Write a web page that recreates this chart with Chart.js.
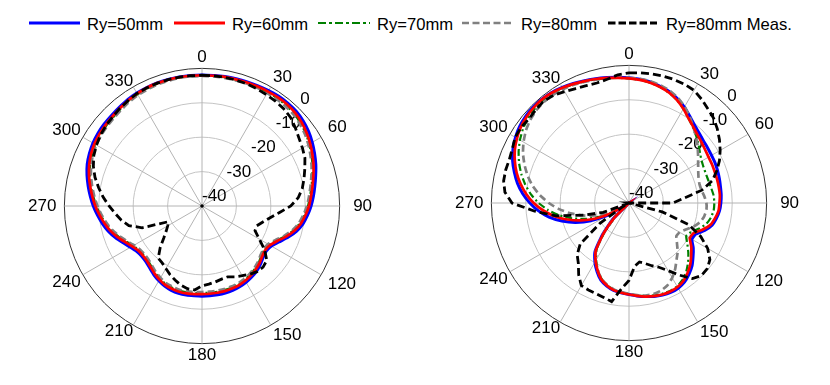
<!DOCTYPE html>
<html>
<head>
<meta charset="utf-8">
<title>Radiation patterns</title>
<script src="https://cdn.jsdelivr.net/npm/chart.js@4.4.1/dist/chart.umd.min.js"></script>
<style>
    html, body { margin: 0; padding: 0; background: #fff; }
    body { width: 830px; height: 385px; position: relative; overflow: hidden;
           font-family: "Liberation Sans", Arial, Helvetica, sans-serif; }
    canvas { position: absolute; }
    #polarL { left: 27px; top: 33px; }
    #polarR { left: 454px; top: 30px; }
    .lg-line { position: absolute; top: 20px; width: 52px; height: 6px; }
    .lg-text { position: absolute; top: 15px; font-size: 16.6px; line-height: 19px; color: #000; white-space: nowrap; }
</style>
</head>
<body>
<svg class="lg-line" style="left:29px"><line x1="0" y1="3" x2="51" y2="3" stroke="#0000ff" stroke-width="2.8"/></svg>
<span class="lg-text" style="left:87px">Ry=50mm</span>
<svg class="lg-line" style="left:174px"><line x1="0" y1="3" x2="51" y2="3" stroke="#ff0000" stroke-width="2.8"/></svg>
<span class="lg-text" style="left:232px">Ry=60mm</span>
<svg class="lg-line" style="left:318px"><line x1="0" y1="3" x2="52" y2="3" stroke="#008000" stroke-width="2.2" stroke-dasharray="8 3 3 3"/></svg>
<span class="lg-text" style="left:377px">Ry=70mm</span>
<svg class="lg-line" style="left:462px"><line x1="0" y1="3" x2="50" y2="3" stroke="#808080" stroke-width="2.6" stroke-dasharray="7 3.5"/></svg>
<span class="lg-text" style="left:521px">Ry=80mm</span>
<svg class="lg-line" style="left:608px"><line x1="0" y1="3" x2="49" y2="3" stroke="#000000" stroke-width="2.8" stroke-dasharray="7.5 3"/></svg>
<span class="lg-text" style="left:666px">Ry=80mm Meas.</span>

<canvas id="polarL" width="348" height="348"></canvas>
<canvas id="polarR" width="348" height="348"></canvas>

<script>
(function () {
    'use strict';

    // angle of every sample, degrees clockwise from top
    var angleLabels = [
        0, 5, 10, 15, 20, 25, 30, 35, 40, 45, 50, 55,
        60, 65, 70, 75, 80, 85, 90, 95, 100, 105, 110, 115,
        120, 125, 130, 135, 140, 145, 150, 155, 160, 165, 170, 175,
        180, 185, 190, 195, 200, 205, 210, 215, 220, 225, 230, 235,
        240, 245, 250, 255, 260, 265, 270, 275, 280, 285, 290, 295,
        300, 305, 310, 315, 320, 325, 330, 335, 340, 345, 350, 355
    ];
    var angleTicks = [0, 30, 60, 90, 120, 150, 180, 210, 240, 270, 300, 330];
    var rTicks = [-40, -30, -20, -10, 0];
    var seriesNames = ['Ry=50mm', 'Ry=60mm', 'Ry=70mm', 'Ry=80mm', 'Ry=80mm Meas.'];

    // left pattern (dB)
    var leftRy50 = [
        -1.9, -1.9, -1.8, -1.7, -1.6, -1.5, -1.3, -1.1, -1.1, -1.2, -1.6, -2.2,
        -3.0, -3.9, -4.8, -5.8, -6.7, -7.5, -8.3, -9.2, -10.2, -11.6, -13.4, -15.3,
        -16.7, -17.2, -16.8, -16.0, -15.3, -14.8, -14.4, -14.1, -13.9, -13.8, -13.8, -13.8,
        -13.8, -13.8, -13.7, -13.7, -13.9, -14.3, -14.9, -15.6, -16.4, -17.0, -17.2, -16.9,
        -16.0, -14.7, -13.2, -11.8, -10.6, -9.5, -8.4, -7.4, -6.4, -5.4, -4.5, -3.9,
        -3.4, -3.1, -2.9, -2.8, -2.6, -2.3, -2.1, -2.0, -1.9, -1.9, -1.9, -1.9
    ];
    var leftRy60 = [
        -2.0, -2.0, -1.9, -1.9, -1.8, -1.7, -1.6, -1.5, -1.5, -1.7, -2.2, -2.9,
        -3.7, -4.6, -5.5, -6.5, -7.4, -8.2, -8.9, -9.8, -10.8, -12.2, -14.0, -15.9,
        -17.2, -17.6, -17.2, -16.4, -15.8, -15.3, -14.9, -14.6, -14.5, -14.4, -14.4, -14.4,
        -14.4, -14.3, -14.2, -14.2, -14.4, -14.7, -15.3, -16.0, -16.8, -17.4, -17.6, -17.4,
        -16.6, -15.3, -13.8, -12.4, -11.2, -10.1, -9.0, -8.0, -7.0, -6.0, -5.1, -4.4,
        -3.9, -3.6, -3.4, -3.2, -2.9, -2.6, -2.3, -2.1, -2.0, -2.0, -2.0, -2.0
    ];
    var leftRy70 = [
        -2.1, -2.1, -2.0, -2.0, -1.9, -1.9, -1.8, -1.8, -1.9, -2.1, -2.6, -3.2,
        -4.0, -4.9, -5.8, -6.8, -7.7, -8.5, -9.2, -10.1, -11.1, -12.5, -14.3, -16.2,
        -17.5, -17.9, -17.5, -16.7, -16.1, -15.6, -15.2, -14.9, -14.8, -14.7, -14.7, -14.7,
        -14.7, -14.6, -14.5, -14.5, -14.7, -15.0, -15.6, -16.3, -17.1, -17.7, -17.9, -17.7,
        -16.9, -15.6, -14.1, -12.7, -11.5, -10.4, -9.3, -8.3, -7.3, -6.3, -5.4, -4.7,
        -4.2, -3.9, -3.7, -3.5, -3.2, -2.8, -2.5, -2.3, -2.2, -2.1, -2.1, -2.1
    ];
    var leftRy80 = [
        -2.2, -2.2, -2.2, -2.2, -2.1, -2.1, -2.1, -2.1, -2.2, -2.4, -2.9, -3.5,
        -4.3, -5.2, -6.1, -7.1, -8.0, -8.8, -9.5, -10.4, -11.4, -12.8, -14.6, -16.5,
        -17.8, -18.2, -17.8, -17.0, -16.4, -15.9, -15.5, -15.2, -15.1, -15.0, -15.0, -15.0,
        -15.0, -14.9, -14.8, -14.8, -15.0, -15.3, -15.9, -16.6, -17.4, -18.0, -18.2, -18.0,
        -17.2, -15.9, -14.4, -13.0, -11.8, -10.7, -9.6, -8.6, -7.6, -6.6, -5.7, -5.0,
        -4.5, -4.2, -4.0, -3.8, -3.5, -3.1, -2.8, -2.6, -2.4, -2.3, -2.2, -2.2
    ];
    var leftMeas = [
        -2.0, -2.0, -2.0, -2.1, -2.2, -2.4, -2.6, -2.8, -3.1, -3.6, -4.6, -5.6,
        -6.3, -7.0, -8.2, -9.3, -10.4, -11.9, -14.2, -17.5, -20.0, -21.8, -23.1, -23.0,
        -20.8, -17.8, -15.4, -14.9, -15.1, -15.8, -16.6, -17.3, -18.1, -18.0, -17.6, -17.2,
        -16.8, -15.5, -15.6, -16.2, -17.1, -18.0, -19.0, -19.8, -20.2, -22.8, -25.5, -27.3,
        -28.5, -29.2, -21.5, -18.0, -16.2, -14.7, -13.0, -11.2, -9.5, -7.8, -6.4, -5.3,
        -4.6, -4.0, -3.6, -3.3, -2.9, -2.6, -2.2, -2.1, -2.0, -2.0, -2.0, -2.0
    ];

    // right pattern (dB)
    var rightRy50 = [
        -3.6, -3.9, -4.3, -4.9, -5.6, -6.6, -7.8, -9.2, -10.4, -11.2, -11.8, -12.1,
        -12.3, -12.4, -12.6, -12.8, -13.0, -13.1, -13.3, -13.6, -14.2, -15.0, -16.6, -18.6,
        -18.9, -17.2, -15.7, -14.1, -12.9, -11.9, -11.4, -11.3, -11.5, -11.9, -12.4, -12.9,
        -13.4, -13.8, -14.2, -15.0, -16.1, -18.0, -20.2, -22.8, -28.0, -33.5, -40, -40,
        -33, -27.8, -23.5, -19.8, -16.4, -13.6, -11.2, -9.0, -7.1, -5.5, -4.0, -2.8,
        -1.9, -1.2, -0.8, -0.6, -0.6, -0.8, -1.2, -1.7, -2.2, -2.6, -3.0, -3.3
    ];
    var rightRy60 = [
        -3.8, -4.1, -4.5, -5.1, -5.9, -7.0, -8.4, -9.9, -11.0, -11.9, -12.5, -13.0,
        -13.3, -13.4, -13.5, -13.5, -13.5, -13.5, -13.7, -13.9, -14.6, -15.5, -17.3, -19.3,
        -19.6, -17.9, -16.4, -14.8, -13.5, -12.4, -11.8, -11.6, -11.7, -12.0, -12.4, -12.9,
        -13.4, -13.8, -14.3, -15.2, -16.4, -18.4, -20.6, -23.2, -28.5, -34, -40, -40,
        -34, -29.3, -25.2, -21.5, -18.0, -15.0, -12.3, -10.0, -8.0, -6.2, -4.7, -3.4,
        -2.4, -1.6, -1.1, -0.8, -0.7, -0.9, -1.3, -1.8, -2.3, -2.7, -3.1, -3.5
    ];
    var rightRy70 = [
        -3.8, -4.1, -4.5, -5.1, -5.9, -7.0, -8.4, -9.9, -11.2, -12.4, -13.6, -14.8,
        -15.6, -16.0, -16.1, -16.0, -15.7, -15.3, -15.2, -15.3, -15.8, -16.7, -18.3, -20.1,
        -20.8, -19.3, -17.5, -15.7, -14.1, -12.8, -12.0, -11.8, -11.9, -12.2, -12.6, -13.0,
        -13.5, -13.9, -14.4, -15.3, -16.6, -18.6, -20.9, -23.6, -29, -34.5, -40, -40,
        -35, -30.5, -26.5, -22.8, -19.4, -16.4, -13.7, -11.4, -9.4, -7.6, -6.0, -4.6,
        -3.4, -2.4, -1.7, -1.3, -1.1, -1.2, -1.5, -1.9, -2.4, -2.8, -3.2, -3.5
    ];
    var rightRy80 = [
        -3.6, -3.8, -4.1, -4.6, -5.3, -6.3, -7.7, -9.3, -11.0, -12.5, -14.0, -15.5,
        -16.8, -17.8, -18.5, -18.8, -18.6, -18.0, -17.5, -17.4, -17.8, -18.6, -20.0, -21.8,
        -23.0, -23.2, -21.8, -20.0, -18.5, -16.6, -14.9, -13.6, -12.9, -12.6, -12.7, -13.1,
        -13.6, -14.0, -14.5, -15.4, -16.6, -18.4, -20.6, -23.3, -28.5, -34, -40, -40,
        -37, -33, -29.5, -26.0, -22.7, -19.6, -16.7, -14.0, -11.6, -9.5, -7.7, -6.0,
        -4.6, -3.4, -2.5, -1.9, -1.6, -1.6, -1.8, -2.1, -2.5, -2.9, -3.2, -3.4
    ];
    var rightMeas = [
        -2.2, -2.0, -1.9, -1.8, -1.8, -1.9, -2.2, -3.2, -4.3, -5.2, -6.5, -7.9,
        -9.4, -11.0, -12.9, -14.9, -18.5, -24.0, -27.2, -40, -40, -30, -21.5, -17,
        -13.6, -11.3, -10.3, -10.2, -11.3, -14.4, -17.3, -19.4, -20.6, -21.8, -22.6, -21.5,
        -17.5, -15, -10.9, -11.6, -12.0, -12.1, -12.3, -14.5, -17.1, -18.7, -21.5, -29.7,
        -38, -40, -32, -26.5, -18.5, -12.5, -6.0, -3.8, -3.0, -2.9, -3.0, -2.6,
        -1.8, -1.7, -2.0, -1.7, -1.4, -1.8, -2.6, -3.3, -3.7, -3.9, -3.5, -2.6
    ];

    Chart.defaults.font.family = '"Liberation Sans", Arial, Helvetica, sans-serif';
    Chart.defaults.color = '#000';

    // extra gap between outer ring and each angle label
    var labelPad = { 0: 5, 30: 4.5, 60: 7.5, 90: 13.5, 120: 7.5, 150: 4.5,
                     180: 5.5, 210: 0, 240: 2.5, 270: 8, 300: 2.5, 330: 0 };

    function isTick(idx) {
        return angleTicks.indexOf(angleLabels[idx]) >= 0;
    }

    // dB labels along the ~45 deg direction, drawn under the curves
    var rTickPlugin = {
        id: 'rTickLabels',
        beforeDatasetsDraw: function (chart) {
            var s = chart.scales.r;
            var ctx = chart.ctx;
            var a = 45.5 * Math.PI / 180;
            ctx.save();
            ctx.font = '17px "Liberation Sans", Arial, sans-serif';
            ctx.fillStyle = '#000';
            ctx.textAlign = 'left';
            ctx.textBaseline = 'middle';
            rTicks.forEach(function (v) {
                var d = s.getDistanceFromCenterForValue(v);
                ctx.fillText(String(v), s.xCenter + d * Math.sin(a), s.yCenter - d * Math.cos(a) - 10);
            });
            ctx.beginPath();
            ctx.arc(s.xCenter, s.yCenter, 1.8, 0, 2 * Math.PI);
            ctx.fill();
            ctx.restore();
        }
    };

    function makePolar(id, series) {
        var styles = [
            { color: '#0000ff', width: 3, dash: [], order: 4, tension: 0.15 },
            { color: '#ff0000', width: 2.7, dash: [], order: 1, tension: 0.15 },
            { color: '#008000', width: 2.2, dash: [7, 3, 2, 3], order: 3, tension: 0.15 },
            { color: '#808080', width: 2.7, dash: [7, 4], order: 2, tension: 0.15 },
            { color: '#000000', width: 2.8, dash: [8, 4], order: 0, tension: 0 }
        ];
        var canvas = document.getElementById(id);
        return new Chart(canvas.getContext('2d'), {
            type: 'radar',
            data: {
                labels: angleLabels,
                datasets: series.map(function (vals, i) {
                    return {
                        label: seriesNames[i],
                        data: vals,
                        borderColor: styles[i].color,
                        borderWidth: styles[i].width,
                        borderDash: styles[i].dash,
                        order: styles[i].order,
                        tension: styles[i].tension,
                        fill: false,
                        pointRadius: 0,
                        pointHoverRadius: 0
                    };
                })
            },
            options: {
                responsive: false,
                animation: false,
                events: [],
                layout: { padding: 0 },
                plugins: { legend: { display: false }, tooltip: { enabled: false } },
                scales: {
                    r: {
                        min: rTicks[0],
                        max: rTicks[rTicks.length - 1],
                        startAngle: 0,
                        ticks: { display: false, stepSize: 10 },
                        grid: {
                            circular: true,
                            lineWidth: 1,
                            color: function (c) {
                                return c.tick && c.tick.value === 0 ? '#333333' : '#c4c4c4';
                            }
                        },
                        angleLines: {
                            color: '#b4b4b4',
                            lineWidth: function (c) { return isTick(c.index) ? 1 : 0; }
                        },
                        pointLabels: {
                            font: { size: 17, lineHeight: 0.7 },
                            color: '#000',
                            padding: function (c) {
                                var a = angleLabels[c.index];
                                return labelPad[a] !== undefined ? labelPad[a] : 0;
                            },
                            callback: function (label, idx) {
                                return isTick(idx) ? String(label) : '';
                            }
                        }
                    }
                }
            },
            plugins: [rTickPlugin]
        });
    }

    makePolar('polarL', [leftRy50, leftRy60, leftRy70, leftRy80, leftMeas]);
    makePolar('polarR', [rightRy50, rightRy60, rightRy70, rightRy80, rightMeas]);
})();
</script>
</body>
</html>
